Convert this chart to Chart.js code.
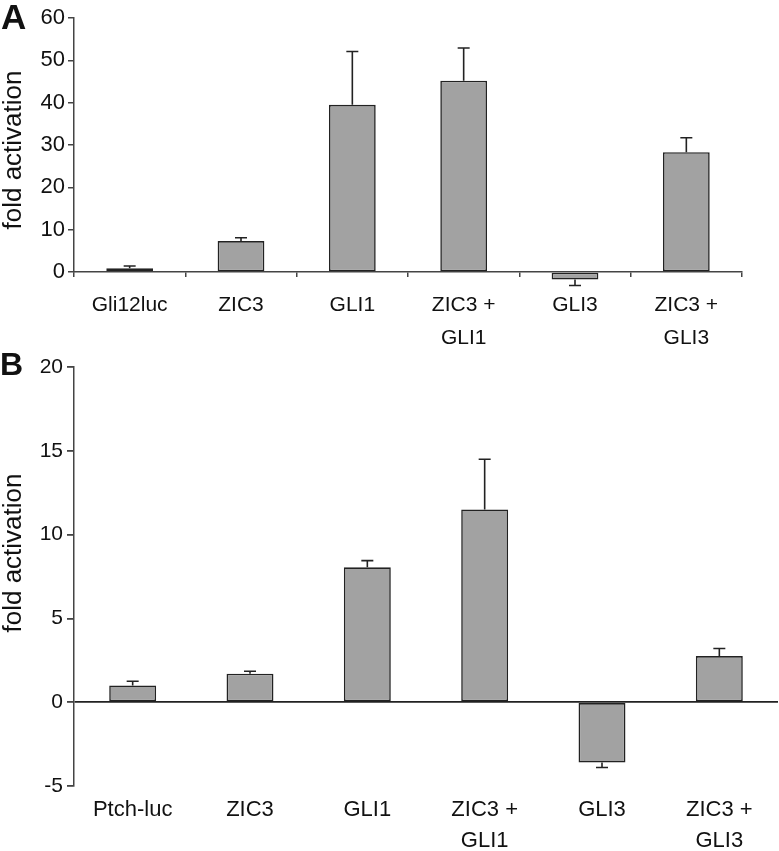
<!DOCTYPE html>
<html>
<head>
<meta charset="utf-8">
<script src="https://cdn.jsdelivr.net/npm/chart.js@4.4.0/dist/chart.umd.min.js"></script>
<style>
  body { margin: 0; background: #fff; }
  #wrap { position: relative; width: 779px; height: 851px; }
  canvas { position: absolute; left: 0; }
  .panel { position: absolute; font-family: "Liberation Sans", Arial, sans-serif; font-weight: bold; color: #111; }
</style>
</head>
<body>
<div id="wrap">
  <canvas id="chartA" width="779" height="350" style="top:0"></canvas>
  <canvas id="chartB" width="779" height="501" style="top:350px"></canvas>
  <div class="panel" style="left:1px; top:-3px; font-size:35px;">A</div>
  <div class="panel" style="left:0px; top:346px; font-size:32px;">B</div>
</div>
<script>
// panel A - Gli reporter
const catsA = ["Gli12luc", "ZIC3", "GLI1", ["ZIC3 +", "GLI1"], "GLI3", ["ZIC3 +", "GLI3"]];
const valsA = [0.9, 7.3, 39.5, 45.2, -1.8, 28.3];
const errA = [0.5, 0.8, 12.6, 7.7, 1.4, 3.4];
const ticksA = [0, 10, 20, 30, 40, 50, 60];

// panel B - Ptch reporter
const catsB = ["Ptch-luc", "ZIC3", "GLI1", ["ZIC3 +", "GLI1"], "GLI3", ["ZIC3 +", "GLI3"]];
const valsB = [1.0, 1.7, 8.05, 11.5, -3.6, 2.75];
const errB = [0.25, 0.15, 0.4, 3.0, 0.3, 0.45];
const ticksB = [-5, 0, 5, 10, 15, 20];

const yTitle = "fold activation";
const FONT = '"Liberation Sans", Arial, sans-serif';
const NARROW = '"Liberation Sans Narrow", "Liberation Sans", Arial, sans-serif';
const INK = "#222";

// error bars drawn from the bar tops through the y scale
const errorBars = {
  id: "errorBars",
  afterDatasetsDraw(chart, args, opts) {
    const { ctx } = chart;
    const y = chart.scales.y;
    const meta = chart.getDatasetMeta(0);
    const vals = chart.data.datasets[0].data;
    ctx.save();
    ctx.strokeStyle = INK;
    ctx.lineWidth = 1.6;
    meta.data.forEach((bar, i) => {
      const v = vals[i];
      const e = opts.errors[i];
      const sign = v < 0 ? -1 : 1;
      const y0 = y.getPixelForValue(v);
      const y1 = y.getPixelForValue(v + sign * e);
      ctx.beginPath();
      ctx.moveTo(bar.x, y0);
      ctx.lineTo(bar.x, y1);
      ctx.moveTo(bar.x - 6, y1);
      ctx.lineTo(bar.x + 6, y1);
      ctx.stroke();
    });
    ctx.restore();
  },
};

// rotated axis title, placed freely
const sideTitle = {
  id: "sideTitle",
  afterDraw(chart, args, opts) {
    const { ctx } = chart;
    ctx.save();
    ctx.translate(opts.x, opts.y);
    ctx.rotate(-Math.PI / 2);
    ctx.font = "26px " + FONT;
    ctx.fillStyle = "#111";
    ctx.textAlign = "center";
    ctx.textBaseline = "middle";
    ctx.fillText(yTitle, 0, 0);
    ctx.restore();
  },
};

function barDataset(vals, pct) {
  return {
    data: vals,
    backgroundColor: "#a2a2a2",
    borderColor: INK,
    borderWidth: 1.6,
    borderSkipped: false,
    barPercentage: pct,
    categoryPercentage: 1,
    clip: false,
  };
}

// A
new Chart(document.getElementById("chartA"), {
  type: "bar",
  data: { labels: catsA, datasets: [barDataset(valsA, 0.42)] },
  options: {
    responsive: false,
    animation: false,
    layout: { padding: { left: 0, right: 37, top: 18, bottom: 0 } },
    plugins: {
      legend: { display: false },
      tooltip: { enabled: false },
      errorBars: { errors: errA },
      sideTitle: { x: 14, y: 150 },
    },
    scales: {
      x: {
        grid: { offset: true, drawOnChartArea: false, tickLength: 5, color: "#444", lineWidth: 1.5 },
        border: { color: "#444", width: 1.5 },
        ticks: { font: { family: NARROW, size: 21, lineHeight: 1.55 }, color: "#111", padding: 12, maxRotation: 0 },
        afterFit(s) { s.height = 78; },
      },
      y: {
        min: 0,
        max: 60,
        afterBuildTicks(s) { s.ticks = ticksA.map((v) => ({ value: v })); },
        afterFit(s) { s.width = 74; },
        grid: { drawOnChartArea: false, tickLength: 6, color: "#444", lineWidth: 1.5 },
        border: { color: "#444", width: 1.5 },
        ticks: { font: { family: FONT, size: 22 }, color: "#111", padding: 3 },
      },
    },
  },
  plugins: [errorBars, sideTitle],
});

// B
new Chart(document.getElementById("chartB"), {
  type: "bar",
  data: { labels: catsB, datasets: [barDataset(valsB, 0.40)] },
  options: {
    responsive: false,
    animation: false,
    layout: { padding: { left: 0, right: 1, top: 17, bottom: 0 } },
    plugins: {
      legend: { display: false },
      tooltip: { enabled: false },
      errorBars: { errors: errB },
      sideTitle: { x: 14, y: 203 },
    },
    scales: {
      x: {
        grid: { display: false },
        border: { display: false },
        ticks: { font: { family: FONT, size: 22, lineHeight: 1.4 }, color: "#111", padding: 1, maxRotation: 0 },
        afterFit(s) { s.height = 65; },
      },
      y: {
        min: -5,
        max: 20,
        afterBuildTicks(s) { s.ticks = ticksB.map((v) => ({ value: v })); },
        afterFit(s) { s.width = 74; },
        grid: {
          drawOnChartArea: true,
          tickLength: 7,
          tickColor: "#444",
          color: (c) => (c.tick && c.tick.value === 0 ? "#222" : "rgba(0,0,0,0)"),
          lineWidth: 1.8,
        },
        border: { color: "#444", width: 1.5 },
        ticks: { font: { family: FONT, size: 21 }, color: "#111", padding: 4 },
      },
    },
  },
  plugins: [errorBars, sideTitle],
});
</script>
</body>
</html>
